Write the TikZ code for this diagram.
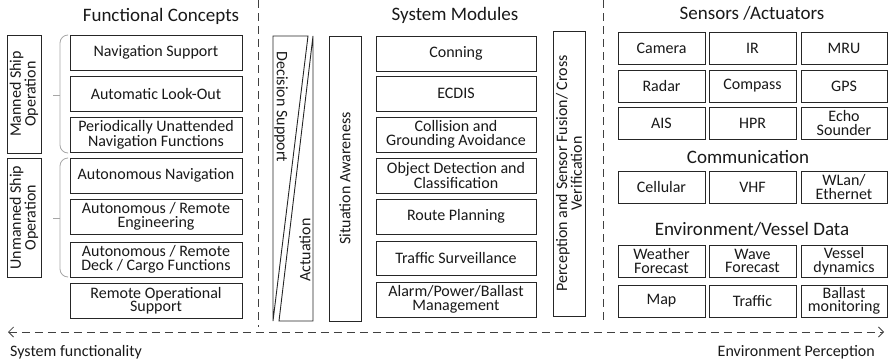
\documentclass[tikz,border=0pt]{standalone}
\usepackage{fontspec}
\setmainfont{Carlito}
\usetikzlibrary{arrows.meta}

\newcommand\bxfont{\fontsize{16}{13.5}\selectfont}
\newcommand\ttlfont{\fontsize{19}{22}\selectfont}

% box by corners: name, x1, y1, x2, y2, text
\newcommand\cbox[6]{%
  \node[box, minimum width={(#4-#2)*1pt}, minimum height={(#5-#3)*1pt}]
    (#1) at ({(#2+#4)/2},{(#3+#5)/2}) {#6};}

\begin{document}
\begin{tikzpicture}[x=1pt, y=-1pt,
  box/.style={draw=black!85, line width=0.9pt, fill=white, inner sep=0pt,
    align=center, font=\bxfont, text=black!90},
  vbox/.style={box, rotate=90},
  shard/.style={draw=black!85, line width=0.9pt, line join=miter},
  lbl/.style={font=\bxfont, align=center, inner sep=0pt, text=black!90},
  title/.style={font=\ttlfont, inner sep=0pt, anchor=base, text=black!90},
  sep/.style={draw=black!75, line width=0.8pt, dash pattern=on 8pt off 5pt},
  brace/.style={draw=black!35, line width=0.8pt, rounded corners=8pt},
  axtip/.tip={Straight Barb[length=5pt, width=10pt, line width=0.8pt]}
]
\useasboundingbox (0,0) rectangle (888,362);

% ---- section titles
\node[title] (tFC) at (161,21) {Functional Concepts};
\node[title] (tSM) at (455,20) {System Modules};
\node[title] (tSA) at (752,19) {Sensors /Actuators};
\node[title] (tCO) at (748,163) {Communication};
\node[title] (tEV) at (752,235) {Environment/Vessel Data};

% ---- separators
\coordinate (s1a) at (258,0);  \coordinate (s1b) at (258,327);
\coordinate (s2a) at (603,0);  \coordinate (s2b) at (603,322);
\draw[sep] (s1a) -- (s1b);
\draw[sep] (s2a) -- (s2b);

% ---- operation modes
\node[vbox, minimum width=118pt, minimum height=34pt] (manned) at (24,94)
  {Manned Ship\\Operation};
\node[vbox, minimum width=119pt, minimum height=34pt] (unmanned) at (24,217.5)
  {Unmanned Ship\\Operation};

% brackets grouping the concepts
\draw[brace] (67,35) -- (60,35) -- (60,153) -- (67,153);
\draw[brace] (53,95) -- (60,95);
\draw[brace] (67,158) -- (60,158) -- (60,277) -- (67,277);
\draw[brace] (53,218) -- (60,218);

% ---- functional concepts
\cbox{fc1}{70}{35}{242}{70}{Navigation Support}
\cbox{fc2}{70}{76}{242}{111}{Automatic Look-Out}
\cbox{fc3}{70}{117}{242}{152}{Periodically Unattended\\Navigation Functions}
\cbox{fc4}{70}{158}{242}{193}{Autonomous Navigation}
\cbox{fc5}{70}{199}{242}{234}{Autonomous / Remote\\Engineering}
\cbox{fc6}{70}{242}{242}{277}{Autonomous / Remote\\Deck / Cargo Functions}
\cbox{fc7}{70}{283}{242}{318}{Remote Operational\\Support}

% ---- decision support / actuation wedges
\draw[shard] (273,36) -- (308,36) -- (273,321) -- cycle;
\draw[shard] (313,36) -- (313,321) -- (279,321) -- cycle;
\node[lbl, rotate=-90] (decsup) at (281,107) {Decision Support};
\node[lbl, rotate=90] (actu) at (305,250) {Actuation};

% ---- situation awareness
\node[vbox, minimum width=285pt, minimum height=32pt] (sitaw) at (345,178.5)
  {Situation Awareness};

% ---- system modules
\cbox{m1}{376}{36}{536}{71}{Conning}
\cbox{m2}{376}{76}{536}{111}{ECDIS}
\cbox{m3}{376}{117}{536}{152}{Collision and\\Grounding Avoidance}
\cbox{m4}{376}{158}{536}{193}{Object Detection and\\Classification}
\cbox{m5}{376}{199}{536}{234}{Route Planning}
\cbox{m6}{376}{241}{536}{275}{Traffic Surveillance}
\cbox{m7}{376}{282}{536}{317}{Alarm/Power/Ballast\\Management}

% ---- perception and sensor fusion
\node[vbox, minimum width=285pt, minimum height=32pt] (fusion) at (569,173.5)
  {Perception and Sensor Fusion/ Cross\\Verification};

% ---- sensors / actuators
\cbox{s11}{618}{32}{705}{64}{Camera}
\cbox{s12}{709}{32}{796}{64}{IR}
\cbox{s13}{801}{32}{887}{64}{MRU}
\cbox{s21}{618}{70}{705}{102}{Radar}
\cbox{s22}{709}{70}{796}{102}{Compass}
\cbox{s23}{801}{70}{887}{102}{GPS}
\cbox{s31}{618}{107}{705}{139}{AIS}
\cbox{s32}{709}{107}{796}{139}{HPR}
\cbox{s33}{801}{107}{887}{139}{Echo\\Sounder}

% ---- communication
\cbox{c1}{618}{171}{705}{203}{Cellular}
\cbox{c2}{709}{171}{796}{203}{VHF}
\cbox{c3}{801}{171}{887}{203}{WLan/\\Ethernet}

% ---- environment / vessel data
\cbox{e11}{618}{245}{705}{277}{Weather\\Forecast}
\cbox{e12}{709}{245}{796}{277}{Wave\\Forecast}
\cbox{e13}{801}{245}{887}{277}{Vessel\\dynamics}
\cbox{e21}{618}{285}{705}{317}{Map}
\cbox{e22}{709}{285}{796}{317}{Traffic}
\cbox{e23}{801}{285}{887}{317}{Ballast\\monitoring}

% ---- axis
\coordinate (axL) at (8,332);
\coordinate (axR) at (884,332);
\draw[sep, axtip-axtip] (axL) -- (axR);
\node[lbl, anchor=base west] (sysf) at (10,356) {System functionality};
\node[lbl, anchor=base east] (envp) at (875,356) {Environment Perception};
\end{tikzpicture}
\end{document}
